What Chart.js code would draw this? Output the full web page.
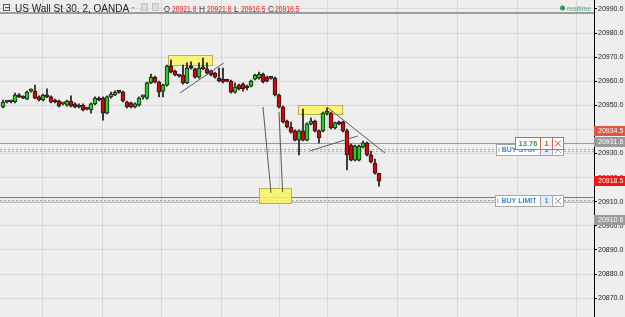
<!DOCTYPE html>
<html lang="en">
<head>
<meta charset="UTF-8">
<title>US Wall St 30, 2, OANDA</title>
<script src="https://cdn.jsdelivr.net/npm/chart.js"></script>
<style>
    body { margin: 0; background: #eeeeee; }
    #wrap { width: 625px; height: 317px; }
</style>
</head>
<body>
<div id="wrap"><canvas id="candles" width="625" height="317"></canvas></div>
<script>
// 2 minute candles, oldest first
const opens = [
    20949.3, 20951.4, 20951.4, 20951.4, 20954.3, 20953.5, 20952.6, 20955.9, 20955.9, 20953.5,
    20952.2, 20954.3, 20953.5, 20952.2, 20951.8, 20950.6, 20950.1, 20951.8, 20950.6, 20949.3,
    20950.1, 20948.5, 20948.1, 20950.6, 20953.0, 20953.0, 20946.8, 20953.5, 20954.3, 20955.5,
    20955.5, 20951.4, 20951.0, 20949.3, 20950.1, 20953.5, 20953.0, 20959.3, 20961.7, 20959.7,
    20955.9, 20958.4, 20966.3, 20964.2, 20962.2, 20962.6, 20959.3, 20965.5, 20965.1, 20961.7,
    20965.9, 20965.1, 20964.2, 20963.4, 20961.3, 20960.9, 20960.1, 20960.1, 20955.5, 20958.4,
    20958.8, 20958.0, 20958.0, 20960.9, 20961.3, 20963.0, 20961.7, 20961.3, 20961.3, 20954.3,
    20949.3, 20943.5, 20941.0, 20939.4, 20935.6, 20939.4, 20935.6, 20942.3, 20943.5, 20939.4,
    20939.4, 20946.8, 20946.8, 20940.6, 20943.1, 20943.1, 20939.4, 20933.5, 20927.3, 20927.3,
    20932.7, 20934.4, 20929.4, 20926.1, 20921.8
];
const highs = [
    20952.2, 20951.8, 20952.2, 20955.1, 20954.9, 20953.9, 20955.9, 20956.8, 20958.4, 20953.9,
    20954.7, 20956.8, 20953.9, 20952.6, 20952.2, 20951.0, 20952.2, 20953.9, 20951.0, 20950.6,
    20950.6, 20948.9, 20951.0, 20953.5, 20953.5, 20953.5, 20953.9, 20955.5, 20956.0, 20956.0,
    20955.9, 20951.8, 20951.4, 20951.0, 20953.5, 20954.3, 20959.7, 20963.0, 20962.1, 20960.1,
    20958.8, 20966.7, 20968.8, 20964.6, 20962.6, 20966.7, 20967.6, 20968.0, 20965.5, 20967.6,
    20969.6, 20967.6, 20964.6, 20963.8, 20965.5, 20965.5, 20960.5, 20960.5, 20959.3, 20958.8,
    20959.3, 20958.4, 20960.5, 20963.0, 20963.8, 20963.4, 20962.1, 20961.7, 20961.7, 20954.7,
    20949.7, 20943.9, 20943.1, 20939.8, 20939.8, 20948.5, 20942.7, 20944.8, 20943.9, 20939.8,
    20947.2, 20948.9, 20947.2, 20943.1, 20943.5, 20943.5, 20940.2, 20933.9, 20933.5, 20933.5,
    20935.2, 20934.8, 20931.0, 20927.7, 20921.8
];
const lows = [
    20948.9, 20951.0, 20951.0, 20951.0, 20953.2, 20952.8, 20952.4, 20955.5, 20952.8, 20951.8,
    20951.8, 20953.2, 20951.0, 20951.0, 20949.3, 20950.2, 20949.7, 20949.3, 20948.9, 20948.9,
    20947.7, 20948.1, 20946.8, 20950.2, 20951.8, 20943.9, 20946.4, 20953.0, 20954.0, 20955.1,
    20951.4, 20948.9, 20948.9, 20948.9, 20949.7, 20952.6, 20952.6, 20959.0, 20959.3, 20953.5,
    20953.5, 20958.0, 20963.4, 20962.2, 20961.7, 20958.8, 20959.0, 20965.0, 20961.3, 20961.3,
    20964.8, 20963.0, 20962.2, 20961.3, 20959.7, 20959.3, 20959.7, 20955.1, 20955.1, 20956.4,
    20955.9, 20956.4, 20957.6, 20960.5, 20960.9, 20959.3, 20959.7, 20960.9, 20953.9, 20948.9,
    20942.7, 20940.6, 20938.5, 20935.2, 20929.4, 20935.2, 20935.2, 20941.9, 20939.0, 20934.4,
    20939.0, 20946.0, 20940.2, 20940.2, 20941.9, 20939.0, 20923.2, 20926.9, 20926.9, 20926.9,
    20932.3, 20929.0, 20926.1, 20921.5, 20916.5
];
const closes = [
    20951.4, 20951.6, 20951.8, 20954.3, 20953.5, 20953.0, 20955.5, 20956.0, 20953.0, 20952.2,
    20954.3, 20953.5, 20951.4, 20951.4, 20949.7, 20950.7, 20951.8, 20949.7, 20949.3, 20950.1,
    20948.1, 20948.4, 20950.6, 20953.0, 20952.2, 20946.8, 20953.5, 20954.7, 20955.5, 20955.4,
    20951.8, 20949.3, 20949.3, 20950.6, 20953.0, 20953.6, 20959.3, 20961.7, 20959.7, 20955.5,
    20958.4, 20966.3, 20963.8, 20962.6, 20962.1, 20959.3, 20965.5, 20965.4, 20961.7, 20965.5,
    20965.1, 20963.4, 20962.6, 20961.7, 20960.1, 20959.7, 20960.0, 20955.5, 20957.6, 20956.8,
    20956.8, 20957.2, 20960.1, 20962.6, 20963.0, 20959.7, 20960.1, 20961.2, 20954.3, 20949.3,
    20943.1, 20941.0, 20938.9, 20935.6, 20939.4, 20935.6, 20942.3, 20943.5, 20939.4, 20936.5,
    20946.8, 20946.9, 20940.6, 20942.7, 20942.3, 20939.4, 20929.4, 20927.3, 20933.1, 20933.1,
    20934.4, 20929.4, 20926.5, 20921.9, 20918.5
];

// price axis
const priceTicks = [20870, 20880, 20890, 20900, 20910, 20920, 20930, 20940, 20950, 20960, 20970, 20980, 20990];
const priceMin = 20862.2;
const priceMax = 20993.7;

// candle slots where the time grid lines fall (the view leaves room on the right)
const timeGrid = [9.75, 24.75, 39.5, 54.5, 69, 81, 98.75, 113.5, 128.5, 143.25];
const slotMin = -0.75;
const slotMax = 147.75;

// quote shown in the header
const quote = { O: '20921.8', H: '20921.8', L: '20916.5', C: '20918.5' };

// levels
const topLine = 20988.5;
const bidLine = 20934.5;
const buyStop = 20931.6;
const buyLimit = 20910.6;
const limitGuide = 20911.9;

// drawings made on the chart: [slotFrom, slotTo, priceTop, priceBottom]
const zones = [
    [41.2, 52.2, 20970.9, 20966.8],
    [73.8, 84.8, 20950.2, 20946.4],
    [64.0, 72.0, 20915.7, 20909.5]
];
// [slot1, price1, slot2, price2]
const trendLines = [
    [44.2, 20955.1, 55.2, 20967.6],
    [81.0, 20949.3, 95.5, 20930.2],
    [76.7, 20931.1, 88.7, 20937.3],
    [65.0, 20949.3, 67.0, 20913.7],
    [69.0, 20947.2, 69.9, 20913.9]
];

// labels on the price axis: [text, colour, price where the tag sits]
const axisTags = [
    ['20934.5', '#e0573f', 20939.2],
    ['20931.6', '#9a9a9a', 20934.8],
    ['20918.5', '#ff1010', 20918.6],
    ['20910.6', '#9a9a9a', 20902.4]
];

const slots = opens.map((o, i) => i);
const upColor = '#22d022';
const downColor = '#e00000';

function hLine(ctx, area, y, color, width, dash) {
    ctx.save();
    ctx.strokeStyle = color;
    ctx.lineWidth = width;
    ctx.setLineDash(dash || []);
    ctx.beginPath();
    ctx.moveTo(area.left, y);
    ctx.lineTo(area.right, y);
    ctx.stroke();
    ctx.restore();
}

function cross(ctx, cx, cy, color) {
    ctx.strokeStyle = color;
    ctx.lineWidth = 1;
    ctx.beginPath();
    ctx.moveTo(cx - 3, cy - 3); ctx.lineTo(cx + 3, cy + 3);
    ctx.moveTo(cx + 3, cy - 3); ctx.lineTo(cx - 3, cy + 3);
    ctx.stroke();
}

// order ticket: label part, quantity part and close button
function ticket(ctx, right, cy, label, labelColor, border, qtyColor, qtyBg, xColor, left) {
    const top = Math.round(cy - 6) + 0.5;
    const h = 11;
    ctx.save();
    ctx.fillStyle = '#ffffff';
    ctx.fillRect(left, top, right - left, h);
    ctx.fillStyle = qtyBg;
    ctx.fillRect(right - 23, top, 12, h);
    ctx.strokeStyle = border;
    ctx.lineWidth = 1;
    ctx.strokeRect(left, top, right - left, h);
    ctx.beginPath();
    ctx.moveTo(right - 23, top); ctx.lineTo(right - 23, top + h);
    ctx.moveTo(right - 11, top); ctx.lineTo(right - 11, top + h);
    ctx.moveTo(left + 2.5, top + 3); ctx.lineTo(left + 2.5, top + h - 3);
    ctx.stroke();
    ctx.font = 'bold 7px "Liberation Sans"';
    ctx.textBaseline = 'middle';
    ctx.fillStyle = labelColor;
    ctx.textAlign = 'center';
    ctx.fillText(label, (left + right - 23) / 2 + 1, top + h / 2 + 0.5);
    ctx.fillStyle = qtyColor;
    ctx.fillText('1', right - 17, top + h / 2 + 0.5);
    cross(ctx, right - 5.5, top + h / 2, xColor);
    ctx.restore();
}

const overlay = {
    id: 'overlay',
    beforeDraw(chart) {
        const ctx = chart.ctx;
        ctx.save();
        ctx.fillStyle = '#eeeeee';
        ctx.fillRect(0, 0, chart.width, chart.height);
        ctx.restore();
    },
    beforeDatasetsDraw(chart) {
        const ctx = chart.ctx, a = chart.chartArea;
        const x = chart.scales.x, y = chart.scales.y;
        const yy = p => Math.round(y.getPixelForValue(p)) + 0.5;

        hLine(ctx, a, yy(topLine) - 0.5, '#9d9d9d', 2);
        hLine(ctx, a, yy(bidLine), '#ec7b6a', 1);
        hLine(ctx, a, yy(buyStop) - 1, '#a5a5a5', 1, [2, 2]);
        hLine(ctx, a, yy(buyStop) + 1, '#b5b5b5', 1, [2, 2]);
        hLine(ctx, a, yy(limitGuide), '#7a7a7a', 1);
        hLine(ctx, a, yy(buyLimit), '#a5a5a5', 1, [2, 2]);
        hLine(ctx, a, yy(buyLimit) + 2, '#c0c0c0', 1);

        ctx.save();
        zones.forEach(z => {
            const x0 = Math.round(x.getPixelForValue(z[0])) + 0.5;
            const x1 = Math.round(x.getPixelForValue(z[1])) + 0.5;
            const y0 = yy(z[2]), y1 = yy(z[3]);
            ctx.fillStyle = 'rgba(248, 244, 96, 0.85)';
            ctx.fillRect(x0, y0, x1 - x0, y1 - y0);
            ctx.strokeStyle = '#b9b24a';
            ctx.lineWidth = 1;
            ctx.strokeRect(x0, y0, x1 - x0, y1 - y0);
        });
        ctx.restore();
    },
    afterDatasetsDraw(chart) {
        const ctx = chart.ctx;
        const x = chart.scales.x, y = chart.scales.y;
        ctx.save();
        ctx.strokeStyle = '#5a5a5a';
        ctx.lineWidth = 1;
        trendLines.forEach(l => {
            ctx.beginPath();
            ctx.moveTo(x.getPixelForValue(l[0]), y.getPixelForValue(l[1]));
            ctx.lineTo(x.getPixelForValue(l[2]), y.getPixelForValue(l[3]));
            ctx.stroke();
        });
        ctx.restore();
    },
    afterDraw(chart) {
        const ctx = chart.ctx, a = chart.chartArea;
        const y = chart.scales.y;

        // order tickets
        ticket(ctx, a.right - 30.5, y.getPixelForValue(buyStop) + 0.5, 'BUY STOP', '#3b86d6', '#a8a8a8', '#3b86d6', '#e4eef8', '#9a9a9a', a.right - 97.5);
        ticket(ctx, a.right - 30.5, y.getPixelForValue(buyLimit) + 1, 'BUY LIMIT', '#3b86d6', '#a8a8a8', '#3b86d6', '#e4eef8', '#9a9a9a', a.right - 98.5);
        ctx.save();
        const cy = Math.round(y.getPixelForValue(bidLine));
        const t = cy - 6 + 0.5, r = a.right - 30.5, l = a.right - 78.5;
        ctx.fillStyle = '#ffffff';
        ctx.fillRect(l, t, r - l, 12);
        ctx.strokeStyle = '#e0604f';
        ctx.lineWidth = 1;
        ctx.strokeRect(l, t, r - l, 12);
        ctx.beginPath();
        ctx.moveTo(r - 23, t); ctx.lineTo(r - 23, t + 12);
        ctx.moveTo(r - 11, t); ctx.lineTo(r - 11, t + 12);
        ctx.stroke();
        ctx.font = 'bold 7.5px "Liberation Sans"';
        ctx.textBaseline = 'middle';
        ctx.textAlign = 'center';
        ctx.fillStyle = '#3c9b3c';
        ctx.fillText('13.76', (l + r - 23) / 2, t + 6.5);
        ctx.fillStyle = '#e0402f';
        ctx.fillText('1', r - 17, t + 6.5);
        cross(ctx, r - 5.5, t + 6, '#e0402f');
        ctx.restore();

        // price tags on the axis
        ctx.save();
        ctx.font = '7px "Liberation Sans"';
        ctx.textBaseline = 'middle';
        axisTags.forEach(tag => {
            const ty = Math.round(y.getPixelForValue(tag[2]));
            ctx.fillStyle = tag[1];
            ctx.fillRect(a.right, ty - 5, chart.width - a.right, 10);
            ctx.fillStyle = '#ffffff';
            ctx.fillText(tag[0], a.right + 4, ty + 0.5, 26);
        });
        ctx.restore();

        // header
        ctx.save();
        ctx.strokeStyle = '#555';
        ctx.lineWidth = 1;
        ctx.strokeRect(3.5, 4.5, 6, 6);
        ctx.beginPath();
        ctx.moveTo(5, 7.5); ctx.lineTo(9, 7.5);
        ctx.stroke();
        ctx.font = '10px "Liberation Sans"';
        ctx.fillStyle = '#222';
        ctx.textBaseline = 'alphabetic';
        ctx.fillText('US Wall St 30, 2, OANDA', 15, 11.5);
        ctx.fillStyle = '#aaa';
        ctx.beginPath();
        ctx.moveTo(131, 7); ctx.lineTo(135, 7); ctx.lineTo(133, 9);
        ctx.fill();
        [141, 152].forEach(bx => {
            ctx.fillStyle = '#dcdcdc';
            ctx.fillRect(bx, 3, 7, 8);
            ctx.strokeStyle = '#c4c4c4';
            ctx.strokeRect(bx + 0.5, 3.5, 6, 7);
        });
        ctx.font = '8.5px "Liberation Sans"';
        const parts = [['O', 164, quote.O, 172], ['H', 199, quote.H, 207], ['L', 234, quote.L, 241], ['C', 268, quote.C, 275]];
        parts.forEach(p => {
            ctx.fillStyle = '#333';
            ctx.fillText(p[0], p[1], 11.5, 6);
            ctx.fillStyle = '#f01818';
            ctx.fillText(p[2], p[3], 11.5, 24.5);
        });
        ctx.fillStyle = '#2f9a5c';
        ctx.beginPath();
        ctx.arc(562.5, 8, 2.5, 0, Math.PI * 2);
        ctx.fill();
        ctx.font = '8px "Liberation Sans"';
        ctx.fillStyle = '#5aaa7e';
        ctx.fillText('realtime', 567, 10.5, 24);
        ctx.restore();
    }
};

const ctx = document.getElementById('candles').getContext('2d');
new Chart(ctx, {
    type: 'bar',
    data: {
        datasets: [{
            label: 'body',
            data: slots.map(i => ({ x: i, y: [opens[i], closes[i]] })),
            backgroundColor: slots.map(i => closes[i] >= opens[i] ? upColor : downColor),
            borderColor: '#1c1c1c',
            borderWidth: 1,
            borderSkipped: false,
            barThickness: 4,
            minBarLength: 2,
            grouped: false,
            order: 0
        }, {
            label: 'wick',
            data: slots.map(i => ({ x: i, y: [lows[i], highs[i]] })),
            backgroundColor: '#1a1a1a',
            barThickness: 1,
            grouped: false,
            order: 1
        }]
    },
    options: {
        responsive: false,
        animation: false,
        layout: { padding: 0 },
        plugins: {
            legend: { display: false },
            tooltip: { enabled: false }
        },
        scales: {
            x: {
                type: 'linear',
                min: slotMin,
                max: slotMax,
                offset: false,
                afterBuildTicks: s => { s.ticks = timeGrid.map(v => ({ value: v })); },
                ticks: { display: false },
                grid: { color: '#d8d8d8', drawTicks: false, offset: false },
                border: { display: false },
                afterFit: s => { s.height = 0; s.paddingLeft = 0; s.paddingRight = 0; }
            },
            y: {
                position: 'right',
                min: priceMin,
                max: priceMax,
                afterBuildTicks: s => { s.ticks = priceTicks.map(v => ({ value: v })); },
                ticks: {
                    callback: v => v.toFixed(1),
                    font: { family: 'Liberation Sans', size: 7 },
                    color: '#222',
                    padding: 1
                },
                grid: { color: '#d8d8d8', tickColor: '#000', tickLength: 3 },
                border: { color: '#000' },
                afterFit: s => { s.width = 31; s.paddingTop = 0; s.paddingBottom = 0; }
            }
        }
    },
    plugins: [overlay]
});
</script>
</body>
</html>
